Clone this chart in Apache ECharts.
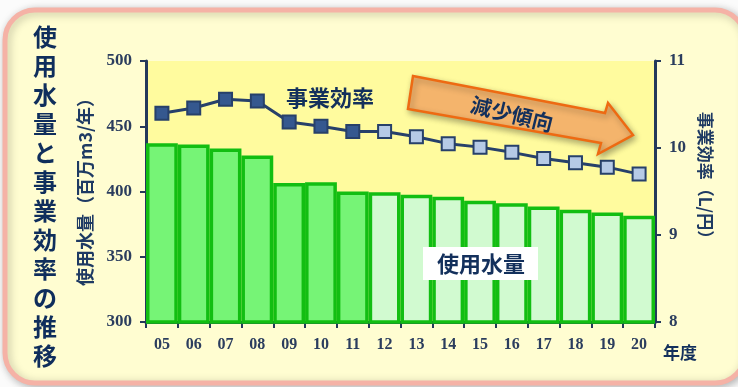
<!DOCTYPE html>
<html><head><meta charset="utf-8">
<script src="https://cdn.jsdelivr.net/npm/echarts@6/dist/echarts.min.js"></script>
<style>html,body{margin:0;padding:0;background:#fafafa;}#c{width:738px;height:387px;}</style>
</head><body><div id="c"></div>
<script>
const categories = ['05','06','07','08','09','10','11','12','13','14','15','16','17','18','19','20'];
const waterUse = [437,436,433,427.5,406.5,407,400,399.5,397.5,396,393,391,388.5,386,384,381.5];
const efficiency = [10.40,10.46,10.56,10.54,10.30,10.25,10.19,10.19,10.13,10.05,10.01,9.95,9.88,9.83,9.78,9.70];
const actualCount = 7; // 05-11 are actual values
const leftTicks = [300,350,400,450,500];
const rightTicks = [8,9,10,11];

const navy = '#1E3A63';
const barBorder = '#12BE12';
const chart = echarts.init(document.getElementById('c'));
const serif = 'Liberation Serif';
const sans = '"Noto Sans CJK JP", sans-serif';

chart.setOption({
  animation: false,
  backgroundColor: '#fbfbfb',
  grid: { left: 146, right: 83, top: 61, bottom: 65, show: true, backgroundColor: '#FFFB9E', borderWidth: 0 },
  xAxis: {
    type: 'category', data: categories, boundaryGap: true,
    axisLine: { lineStyle: { color: '#24395C', width: 3 } },
    axisTick: { show: true, length: 6, lineStyle: { color: '#24395C', width: 2 } },
    axisLabel: { margin: 15, fontFamily: serif, fontWeight: 'bold', fontSize: 16, color: '#2B3D5E' }
  },
  yAxis: [{
    type: 'value', min: leftTicks[0], max: leftTicks[leftTicks.length-1], interval: 50, position: 'left',
    name: '使用水量（百万m3/年）', nameLocation: 'middle', nameRotate: 90, nameGap: 52,
    nameTextStyle: { fontFamily: sans, fontSize: 18, color: navy, fontWeight: 'bold', padding: [0,0,0,8] },
    axisLine: { show: true, lineStyle: { color: '#24395C', width: 3 } },
    axisTick: { show: true, length: 6, lineStyle: { color: '#24395C', width: 2 } },
    splitLine: { show: false },
    axisLabel: { margin: 14, fontFamily: serif, fontWeight: 'bold', fontSize: 17, color: '#2B3D5E' }
  },{
    type: 'value', min: rightTicks[0], max: rightTicks[rightTicks.length-1], interval: 1, position: 'right',
    name: '事業効率（L/円）', nameLocation: 'middle', nameRotate: -90, nameGap: 42,
    nameTextStyle: { fontFamily: sans, fontSize: 17, color: navy, fontWeight: 'bold', padding: [0,24,0,0] },
    axisLine: { show: true, lineStyle: { color: '#24395C', width: 3 } },
    axisTick: { show: true, length: 6, lineStyle: { color: '#24395C', width: 2 } },
    splitLine: { show: false },
    axisLabel: { margin: 14, fontFamily: serif, fontWeight: 'bold', fontSize: 17, color: '#2B3D5E' }
  }],
  series: [{
    type: 'bar', yAxisIndex: 0, barCategoryGap: '0%', z: 2,
    data: waterUse.map((v, i) => ({ value: v, itemStyle: {
      color: i < actualCount ? '#76F476' : '#D1FAD0', borderColor: barBorder, borderWidth: 3.5 } }))
  },{
    type: 'line', yAxisIndex: 1, z: 5,
    symbol: 'rect', symbolSize: 13,
    lineStyle: { color: '#27406A', width: 3 },
    data: efficiency.map((v, i) => ({ value: v, itemStyle: {
      color: i < actualCount ? '#35588F' : '#B6CAE6', borderColor: '#27406A', borderWidth: 2 } }))
  }],
  graphic: [
    { type: 'rect', z: -10, shape: { x: 5, y: 10, width: 740, height: 373, r: 30 },
      style: { fill: '#FFFDD1', stroke: '#F5B2A6', lineWidth: 5, shadowBlur: 8, shadowColor: 'rgba(0,0,0,0.25)', shadowOffsetX: 2, shadowOffsetY: 2 } },
    { type: 'text', z: 50, style: { x: 45, y: 22, text: '使\n用\n水\n量\nと\n事\n業\n効\n率\nの\n推\n移', align: 'center', verticalAlign: 'top',
      font: 'bold 24px ' + sans, lineHeight: 29, fill: '#0F2E5C' } },
    { type: 'text', z: 50, style: { x: 330, y: 98, text: '事業効率', align: 'center', verticalAlign: 'middle',
      font: 'bold 22px ' + sans, fill: '#13305C' } },
    { type: 'rect', z: 50, shape: { x: 423, y: 247, width: 115, height: 33 }, style: { fill: '#FFFFFF' } },
    { type: 'text', z: 51, style: { x: 481, y: 264, text: '使用水量', align: 'center', verticalAlign: 'middle',
      font: 'bold 22px ' + sans, fill: '#13305C' } },
    { type: 'polygon', z: 50, shape: { points: [[413,76],[605,113],[608,103],[633,135],[598,154],[601,143],[408,109]] },
      style: { fill: '#F4B46C', stroke: '#EE6A12', lineWidth: 2.5, shadowBlur: 6, shadowColor: 'rgba(0,0,0,0.3)', shadowOffsetX: 2, shadowOffsetY: 3 } },
    { type: 'text', z: 51, x: 512, y: 114, rotation: -0.24, style: { x: 0, y: 0, text: '減少傾向', align: 'center', verticalAlign: 'middle',
      font: 'bold 21px ' + sans, fill: '#13305C' } },
    { type: 'text', z: 50, style: { x: 680, y: 353, text: '年度', align: 'center', verticalAlign: 'middle',
      font: 'bold 17px ' + sans, fill: '#13305C' } }
  ]
});
</script></body></html>
